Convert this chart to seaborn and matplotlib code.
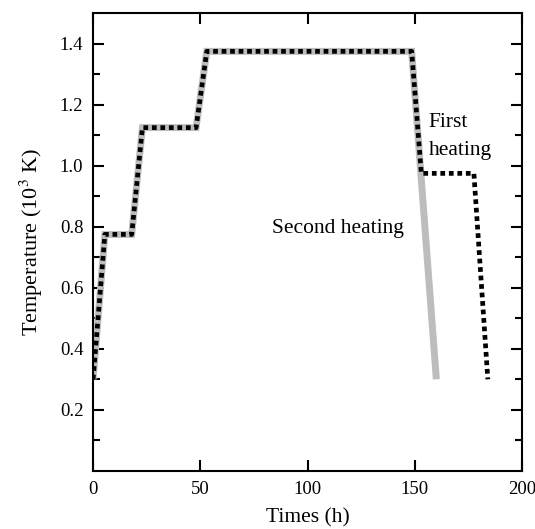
import numpy as np
import pandas as pd
import matplotlib
matplotlib.use("Agg")
import matplotlib.pyplot as plt
import seaborn as sns

# Heating schedules: time (h) vs temperature (10^3 K)
second_time = [0, 5.5, 18, 23, 48, 53, 148.5, 160]
second_temp = [0.30, 0.775, 0.775, 1.125, 1.125, 1.375, 1.375, 0.30]

first_time = [0, 5.5, 18, 23, 48, 53, 148.5, 153, 177.5, 184]
first_temp = [0.30, 0.775, 0.775, 1.125, 1.125, 1.375, 1.375, 0.975, 0.975, 0.30]

x_ticks = [0, 50, 100, 150, 200]
y_ticks = [0.2, 0.4, 0.6, 0.8, 1.0, 1.2, 1.4]

sns.set_style("ticks")
plt.rcParams["font.family"] = ["Liberation Serif", "DejaVu Serif"]
plt.rcParams["mathtext.fontset"] = "stix"
plt.rcParams["text.color"] = "black"
plt.rcParams["axes.labelcolor"] = "black"

fig = plt.figure(figsize=(5.35, 5.29), dpi=100)
ax = fig.add_axes([0.174, 0.110, 0.802, 0.865])

df_second = pd.DataFrame({"t": second_time, "T": second_temp})
df_first = pd.DataFrame({"t": first_time, "T": first_temp})

sns.lineplot(data=df_second, x="t", y="T", ax=ax, color="#bdbdbd",
             linewidth=5.0, sort=False, estimator=None,
             solid_capstyle="butt", solid_joinstyle="miter")
sns.lineplot(data=df_first, x="t", y="T", ax=ax, color="black",
             linewidth=3.4, sort=False, estimator=None,
             linestyle=(0, (1.0, 0.8)), dash_capstyle="butt")

ax.set_xlim(0, 200)
ax.set_ylim(0, 1.5)
ax.set_xticks(x_ticks)
ax.set_xticklabels([str(v) for v in x_ticks])
ax.set_yticks(y_ticks)
ax.set_yticklabels([f"{v:.1f}" for v in y_ticks])
ax.set_yticks(np.arange(0.1, 1.5, 0.2), minor=True)

for s in ax.spines.values():
    s.set_visible(True)
    s.set_linewidth(1.5)
    s.set_color("black")

ax.tick_params(axis="both", which="major", direction="in", length=8,
               width=1.5, top=True, right=True, labelsize=13.5, pad=7,
               colors="black", labelcolor="black")
ax.tick_params(axis="y", which="minor", direction="in", length=5,
               width=1.5, right=True, left=True, colors="black")

ax.set_xlabel("Times (h)", fontsize=15.5, labelpad=8)
ax.set_ylabel("Temperature (10$^3$ K)", fontsize=16, labelpad=11)

ax.text(156.5, 1.095, "First\nheating", fontsize=15.5, ha="left",
        va="center", linespacing=1.65)
ax.text(83.5, 0.795, "Second heating", fontsize=15.5, ha="left", va="center")

fig.savefig("out.png", dpi=100)
